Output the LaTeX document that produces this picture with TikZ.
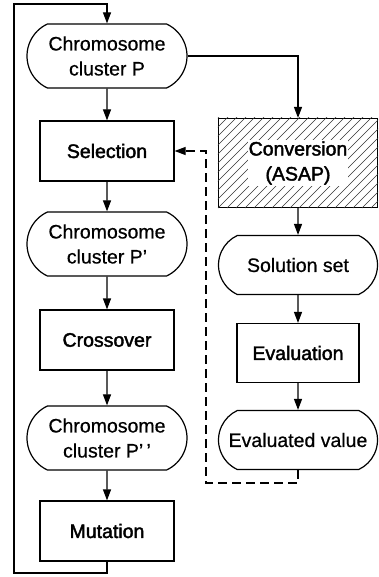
\documentclass[tikz,border=0pt]{standalone}
\usepackage{fontspec}
\setmainfont[FakeBold=0.6]{Liberation Sans}
\newfontfamily\heavyfont[FakeBold=2]{Liberation Sans}
\usepackage{tikz}
\usetikzlibrary{arrows.meta, positioning, shapes.misc}

\begin{document}
\begin{tikzpicture}[x=1pt, y=-1pt, line width=1.2pt,
    every node/.style={font=\fontsize{19.5}{25}\selectfont, align=center},
    >={Triangle[length=11pt, width=8pt]},
    pool/.style={draw, rounded rectangle, rounded rectangle arc length=130, minimum width=160pt, minimum height=64pt, inner sep=0pt},
    result/.style={pool, minimum width=159pt, minimum height=59pt},
    op/.style={draw, rectangle, minimum width=134pt, minimum height=60pt, font=\fontsize{19.5}{25}\heavyfont},
    hatch/.style={line width=0.6pt, black!80},
    feedback/.style={dash pattern=on 9pt off 5pt}]
    \useasboundingbox (0,0) rectangle (378,577);

    % GA loop (left column)
    \node[pool] (cp) at (107,56) {Chromosome\\cluster P};
    \node[op] (sel) at (107,151) {Selection};
    \node[pool] (cp1) at (107,244) {Chromosome\\cluster P’};
    \node[op] (cro) at (107,340) {Crossover};
    \node[pool] (cp2) at (107,438) {Chromosome\\cluster P’\,’};
    \node[op] (mut) at (107,531) {Mutation};

    % Evaluation chain (right column)
    \node[draw, rectangle, minimum width=159pt, minimum height=89pt] (conv) at (298,163) {};
    \begin{scope}
        \clip (conv.south west) rectangle (conv.north east);
        \foreach \s in {-90,-81,...,170}
            \draw[hatch] ([xshift=\s pt]conv.south west) -- ++(100,-100);
    \end{scope}
    \node[fill=white, inner sep=1pt, font=\fontsize{19.5}{25}\heavyfont] (convtxt) at (conv) {Conversion\\(ASAP)};
    \node[result] (sol) at (298,265) {Solution set};
    \node[op, minimum width=122pt, minimum height=59pt] (eva) at (298,353) {Evaluation};
    \node[result] (val) at (298,440) {Evaluated value};

    % Corners of the return paths
    \coordinate (looptop) at (14,4);
    \coordinate (loopbot) at (14,573);
    \coordinate (dashbot) at (206,483);

    \draw[->] (cp) -- (sel);
    \draw[->] (sel) -- (cp1);
    \draw[->] (cp1) -- (cro);
    \draw[->] (cro) -- (cp2);
    \draw[->] (cp2) -- (mut);
    \draw[->] (mut.south) |- (loopbot) -- (looptop) -| (cp.north);

    \draw[->] (cp.east) -| (conv.north);
    \draw[->] (conv) -- (sol);
    \draw[->] (sol) -- (eva);
    \draw[->] (eva) -- (val);
    \draw[->, feedback] (val.south) |- (dashbot) |- (sel.east);
\end{tikzpicture}
\end{document}
